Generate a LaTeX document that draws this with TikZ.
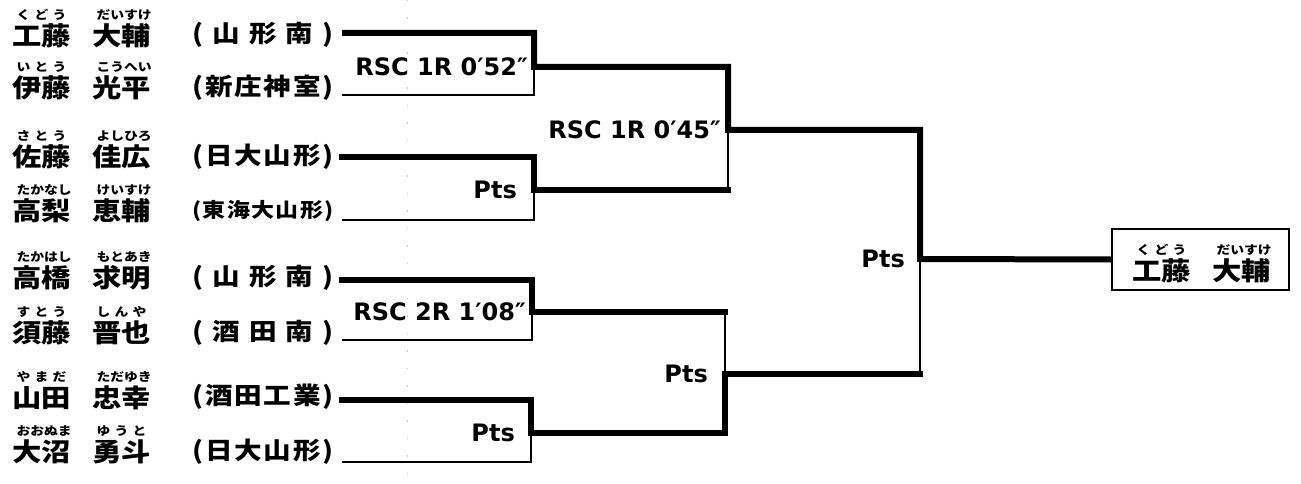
\documentclass[tikz,border=0pt]{standalone}
\usepackage{fontspec}
\newfontfamily\jp{Noto Sans CJK JP}[FakeStretch=1.15]
\newfontfamily\lab{DejaVu Sans}
\tikzset{
  kanji/.style={inner sep=0pt, font=\jp\bfseries\fontsize{25.5}{25.5}\selectfont},
  kana/.style={inner sep=0pt, font=\jp\bfseries\fontsize{12}{12}\selectfont},
  school/.style={inner sep=0pt, font=\jp\bfseries\fontsize{24}{24}\selectfont},
  res/.style={inner sep=0pt, anchor=east, font=\lab\bfseries\fontsize{24}{24}\selectfont},
  winline/.style={line width=6pt, line join=miter},
  winend/.style={line width=6pt, line join=miter, line cap=rect},
  loseline/.style={line width=2.5pt},
  champbox/.style={draw, line width=2.5pt, minimum width=177pt, minimum height=61pt, inner sep=0pt},
}
\newcommand\pname[5]{%
  \node[kanji, anchor=west] (#1) at (#2,#3) {#4};
  \node[kana] (#1r) at ([yshift=21pt]#1.center) {\makebox[50pt][s]{#5}};
}
\begin{document}
\begin{tikzpicture}[x=1pt,y=-1pt]
\useasboundingbox (0,0) rectangle (1301,484);
% faint scan fold
\draw[gray!45, line width=1pt, dash pattern=on 1.5pt off 16pt] (407,0) -- (407,484);

% names
\pname{n1s}{12}{36}{工藤}{く\hfill ど\hfill う}
\pname{n1g}{92}{36}{大輔}{だ\hfill い\hfill す\hfill け}
\pname{n2s}{12}{88}{伊藤}{い\hfill と\hfill う}
\pname{n2g}{92}{88}{光平}{こ\hfill う\hfill へ\hfill い}
\pname{n3s}{12}{157}{佐藤}{さ\hfill と\hfill う}
\pname{n3g}{92}{157}{佳広}{よ\hfill し\hfill ひ\hfill ろ}
\pname{n4s}{12}{211}{高梨}{た\hfill か\hfill な\hfill し}
\pname{n4g}{92}{211}{恵輔}{け\hfill い\hfill す\hfill け}
\pname{n5s}{12}{278}{高橋}{た\hfill か\hfill は\hfill し}
\pname{n5g}{92}{278}{求明}{も\hfill と\hfill あ\hfill き}
\pname{n6s}{12}{333}{須藤}{す\hfill と\hfill う}
\pname{n6g}{92}{333}{晋也}{し\hfill ん\hfill や}
\pname{n7s}{12}{398}{山田}{や\hfill ま\hfill だ}
\pname{n7g}{92}{398}{忠幸}{た\hfill だ\hfill ゆ\hfill き}
\pname{n8s}{12}{452}{大沼}{お\hfill お\hfill ぬ\hfill ま}
\pname{n8g}{92}{452}{勇斗}{ゆ\hfill う\hfill と}

% schools
\node[school] (s1) at (263,35) {\makebox[141pt][s]{(\hfill 山\hfill 形\hfill 南\hfill )}};
\node[school] (s2) at (263,88) {\makebox[141pt][s]{(\hfil 新\hfil 庄\hfil 神\hfil 室\hfil )}};
\node[school] (s3) at (263,157) {\makebox[141pt][s]{(\hfil 日\hfil 大\hfil 山\hfil 形\hfil )}};
\node[school] (s4) at (263,211) {\makebox[141pt][s]{\fontsize{20}{20}\selectfont(\hfil 東\hfil 海\hfil 大\hfil 山\hfil 形\hfil )}};
\node[school] (s5) at (263,278) {\makebox[141pt][s]{(\hfill 山\hfill 形\hfill 南\hfill )}};
\node[school] (s6) at (263,333) {\makebox[141pt][s]{(\hfill 酒\hfill 田\hfill 南\hfill )}};
\node[school] (s7) at (263,397) {\makebox[141pt][s]{(\hfil 酒\hfil 田\hfil 工\hfil 業\hfil )}};
\node[school] (s8) at (263,452) {\makebox[141pt][s]{(\hfil 日\hfil 大\hfil 山\hfil 形\hfil )}};

% bracket points
\coordinate (a1) at (342,33);
\coordinate (a2) at (342,95);
\coordinate (a3) at (342,157);
\coordinate (a4) at (342,220);
\coordinate (a5) at (342,280);
\coordinate (a6) at (342,340);
\coordinate (a7) at (342,400);
\coordinate (a8) at (342,462);
\coordinate (j1) at (534,67);
\coordinate (j2) at (534,190);
\coordinate (j3) at (532,312);
\coordinate (j4) at (531,433);
\coordinate (k1) at (728,130);
\coordinate (k2) at (725,374);
\coordinate (f) at (920,259);

% champion
\node[champbox] (champ) at (1200.5,259.5) {};
\pname{cs}{1132}{271}{工藤}{く\hfill ど\hfill う}
\pname{cg}{1212}{271}{大輔}{だ\hfill い\hfill す\hfill け}

% losing lines
\draw[loseline] (a2) -- (a2 -| j1) -- (j1);
\draw[loseline] (j2 -| k1) -- (k1);
\draw[loseline] (a4) -- (a4 -| j2) -- (j2);
\draw[loseline] (j3 -| k2) -- (k2);
\draw[loseline] (a6) -- (a6 -| j3) -- (j3);
\draw[loseline] (k2 -| f) -- (f);
\draw[loseline] (a8) -- (a8 -| j4) -- (j4);

% winning lines
\draw[winline] (a1) -- (a1 -| j1) -- (j1) -- (j1 -| k1) -- (k1) -- (k1 -| f) -- (f) -- (champ.west);
\draw[winend] (a3) -- (a3 -| j2) -- (j2) -- (j2 -| k1);
\draw[winend] (a5) -- (a5 -| j3) -- (j3) -- (j3 -| k2);
\draw[winend] (a7) -- (a7 -| j4) -- (j4) -- (j4 -| k2) -- (k2) -- (k2 -| f);

% results
\node[res] (r1) at ([xshift=-6pt]j1) {RSC 1R 0′52″};
\node[res] (r2) at ([xshift=-17pt]j2) {Pts};
\node[res] (r3) at ([xshift=-7pt]k1) {RSC 1R 0′45″};
\node[res] (r4) at ([xshift=-6pt]j3) {RSC 2R 1′08″};
\node[res] (r5) at ([xshift=-16pt]j4) {Pts};
\node[res] (r6) at ([xshift=-17pt]k2) {Pts};
\node[res] (r7) at ([xshift=-15pt]f) {Pts};
\end{tikzpicture}
\end{document}
